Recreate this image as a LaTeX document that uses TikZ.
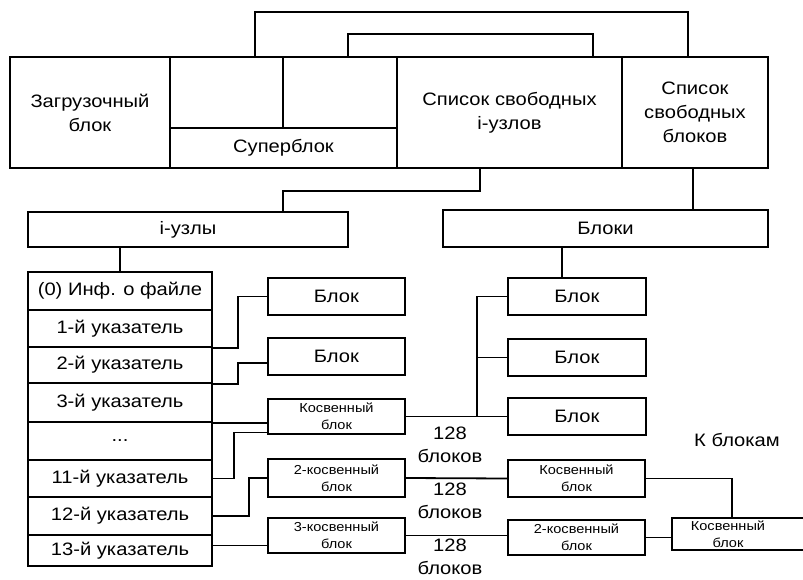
\documentclass[tikz,border=0pt]{standalone}
\usepackage{fontspec}
\setmainfont{Liberation Sans}[FakeStretch=1.12]
\begin{document}
\begin{tikzpicture}[x=1pt,y=-1pt,
  cell/.style={draw, line width=1.8pt, inner sep=0pt, align=center,
    font=\fontsize{18}{24}\selectfont},
  smallcell/.style={cell, font=\fontsize{13}{17}\selectfont},
  link/.style={line width=1.8pt},
  lbl/.style={inner sep=0pt, align=center, font=\fontsize{18}{23}\selectfont}]
\useasboundingbox (0,0) rectangle (803,580);

% file system layout bar
\node[cell, minimum width=160pt, minimum height=111pt] (load) at (90,112.5) {Загрузочный\\блок};
\node[cell, minimum width=113pt, minimum height=71pt] (e1) at (226.5,92.5) {};
\node[cell, minimum width=114pt, minimum height=71pt] (e2) at (340,92.5) {};
\node[cell, minimum width=227pt, minimum height=40pt] (sb) at (283.5,148) {Суперблок};
\node[cell, minimum width=225pt, minimum height=111pt] (fi) at (509.5,112.5) {Список свободных\\i-узлов};
\node[cell, minimum width=146pt, minimum height=111pt] (fb) at (695,112.5) {Список\\свободных\\блоков};

% links above the bar
\draw[link] ([xshift=28.5pt]e1.north) -- ++(0,-44) -| ([xshift=-7pt]fb.north);
\draw[link] ([xshift=8pt]e2.north) -- ++(0,-22) -| ([xshift=83.5pt]fi.north);

% i-nodes and blocks areas
\node[cell, minimum width=320pt, minimum height=35pt] (in) at (188,229.5) {i-узлы};
\node[cell, minimum width=325pt, minimum height=37pt] (bl) at (605.5,228.5) {Блоки};
\draw[link] ([xshift=-29.5pt]fi.south) -- ++(0,22) -| ([xshift=95pt]in.north);
\draw[link] ([xshift=-2pt]fb.south) -- ([xshift=-2pt]fb.south |- bl.north);

% i-node table
\node[cell, minimum width=184pt, minimum height=38pt] (r0) at (120,291) {(0) Инф. о файле};
\node[cell, minimum width=184pt, minimum height=37pt] (r1) at (120,328.5) {1-й указатель};
\node[cell, minimum width=184pt, minimum height=36pt] (r2) at (120,365) {2-й указатель};
\node[cell, minimum width=184pt, minimum height=39pt] (r3) at (120,402.5) {3-й указатель};
\node[cell, minimum width=184pt, minimum height=38pt] (r4) at (120,441) {...};
\node[cell, minimum width=184pt, minimum height=37pt] (r5) at (120,478.5) {11-й указатель};
\node[cell, minimum width=184pt, minimum height=38pt] (r6) at (120,516) {12-й указатель};
\node[cell, minimum width=184pt, minimum height=31pt] (r7) at (120,550.5) {13-й указатель};
\draw[link] (r0.north) -- (r0.north |- in.south);

% blocks referenced from the i-node
\node[cell, minimum width=137pt, minimum height=37pt] (b1) at (336.5,296.5) {Блок};
\node[cell, minimum width=137pt, minimum height=37pt] (b2) at (336.5,356.5) {Блок};
\node[smallcell, minimum width=137pt, minimum height=35pt] (k1) at (336.5,416.5) {Косвенный\\блок};
\node[smallcell, minimum width=137pt, minimum height=38pt] (k2) at (336.5,478) {2-косвенный\\блок};
\node[smallcell, minimum width=137pt, minimum height=35pt] (k3) at (336.5,535.5) {3-косвенный\\блок};

\draw[link] (r1.south east) -- ++(25,0) |- (b1.west);
\draw[link] (r2.south east) -- ++(25,0) |- ([yshift=-6.5pt]b2.west);
\draw[link] (r3.south east) -- (r3.south east -| k1.west);
\draw[link] (r5.east) -- ++(21,0) |- ([yshift=-16pt]k1.west);
\draw[link] (r6.east) -- ++(36,0) |- (k2.west);
\draw[link] ([yshift=5pt]r7.east) -- ([yshift=5pt]r7.east -| k3.west);

% data blocks
\node[cell, minimum width=138pt, minimum height=37pt] (B1) at (577,296.5) {Блок};
\node[cell, minimum width=138pt, minimum height=37pt] (B2) at (577,357.5) {Блок};
\node[cell, minimum width=138pt, minimum height=37pt] (B3) at (577,416.5) {Блок};
\draw[link] ([xshift=-15pt]B1.north) -- ([xshift=-15pt]B1.north |- bl.south);

\path (k1.east) -- (B3.west) coordinate[pos=0.7] (jn);
\draw[link] (k1.east) -- (B3.west);
\draw[link] (B1.west) -| (jn);
\draw[link] (B2.west) -- (B2.west -| jn);

% second and third level indirection
\node[smallcell, minimum width=137pt, minimum height=37pt] (K2) at (576.5,478.5) {Косвенный\\блок};
\node[smallcell, minimum width=137pt, minimum height=35pt] (D2) at (576.5,537.5) {2-косвенный\\блок};
\node[draw, line width=1.8pt, inner sep=0pt, minimum width=140pt, minimum height=32pt] (K3) at (742,534) {};
\node[lbl, font=\fontsize{13}{17}\selectfont] (K3t) at (728,534) {Косвенный\\блок};

\draw[link] (k2.east) -- (K2.west);
\draw[link] (k3.east) -- (k3.east -| D2.west);
\draw[link] (K2.east) -| ([xshift=-10pt]K3.north);
\draw[link] (D2.east) -- (D2.east -| K3.west);

% labels
\node[lbl] (n1) at (450,445) {128\\блоков};
\node[lbl] (n2) at (450,501) {128\\блоков};
\node[lbl] (n3) at (450,557) {128\\блоков};
\node[lbl] (kb) at (737,440) {К блокам};
\end{tikzpicture}
\end{document}
